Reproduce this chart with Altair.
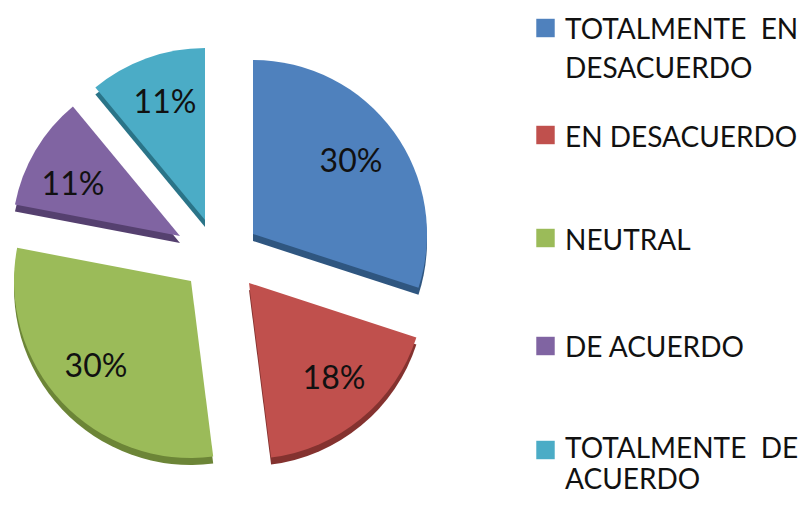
import altair as alt
import pandas as pd

categories = ["TOTALMENTE\u00a0 EN\nDESACUERDO", "EN DESACUERDO", "NEUTRAL", "DE ACUERDO", "TOTALMENTE\u00a0 DE\nACUERDO"]
values = [30, 18, 30, 11, 11]
labels = ["30%", "18%", "30%", "11%", "11%"]
colors = ["#4F81BD", "#C0504D", "#9BBB59", "#8064A2", "#4BACC6"]
dark = ["#2F5680", "#84322F", "#6C8537", "#55406F", "#2A7488"]

centres = [(245, 226), (241, 275), (183, 273), (172, 228), (197, 212)]
radii = [174, 176, 177, 168, 172]
label_pos = [(343, 154), (326, 371), (88, 359), (65, 177), (157, 95)]
legend_sq = [20, 127, 230, 338, 442]
legend_txt = [31, 139, 242, 349, 450]
line_heights = [39, 39, 39, 39, 31]

df = pd.DataFrame({"cat": categories, "value": values, "label": labels})
df["end"] = df["value"].cumsum()
df["start"] = df["end"] - df["value"]
df["order"] = range(len(df))

theta = alt.Theta("start:Q", scale=alt.Scale(domain=[0, 100], range=[0, 6.28318530718]))
layers = []
for i in range(5):
    d = df[df.order == i]
    cx, cy = centres[i]
    base = alt.Chart(d)
    layers.append(base.mark_arc(radius=radii[i], fill=dark[i]).encode(
        theta=theta, theta2="end:Q", x=alt.value(cx), y=alt.value(cy + 7)))
    layers.append(base.mark_arc(radius=radii[i], fill=colors[i]).encode(
        theta=theta, theta2="end:Q", x=alt.value(cx), y=alt.value(cy)))
for i in range(5):
    d = df[df.order == i]
    base = alt.Chart(d)
    layers.append(base.mark_text(font="Lato", fontSize=32, color="#111111").encode(
        text="label:N", x=alt.value(label_pos[i][0]), y=alt.value(label_pos[i][1])))
    layers.append(base.mark_square(size=340, opacity=1, fill=colors[i]).encode(
        x=alt.value(537.5), y=alt.value(legend_sq[i])))
    layers.append(base.mark_text(font="Lato", fontSize=28, align="left", baseline="alphabetic",
                                 lineBreak="\n", lineHeight=line_heights[i], color="#111111").encode(
        text="cat:N", x=alt.value(557), y=alt.value(legend_txt[i])))

chart = alt.layer(*layers).properties(
    width=794, height=490, padding=0, autosize=alt.AutoSizeParams(type="none")
).configure_view(stroke=None)

chart.save("out.html", embed_options={"renderer": "svg", "actions": False})
